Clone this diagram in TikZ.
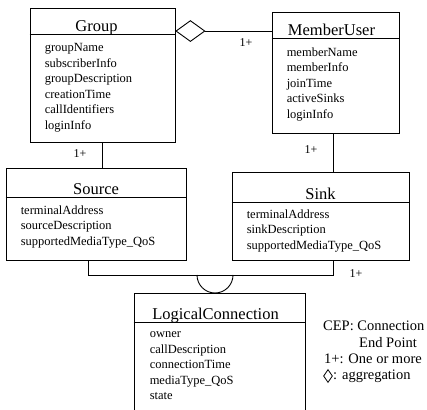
\documentclass[tikz,border=0pt]{standalone}
\usepackage{fontspec}
\setmainfont{Liberation Serif}
\usepackage{tikz}
\usetikzlibrary{calc,shapes.geometric}

\tikzset{
  classbox/.style={draw, line width=0.9pt, inner sep=0pt},
  classname/.style={font=\fontsize{16.5}{18}\selectfont, inner sep=0pt, anchor=base},
  attrs/.style={font=\fontsize{12.5}{15.5}\selectfont, align=left, inner sep=0pt,
    anchor=north west},
  mult/.style={font=\fontsize{12}{14}\selectfont, inner sep=0pt},
  keytext/.style={font=\fontsize{14.5}{16.5}\selectfont, inner sep=0pt, anchor=base west},
  link/.style={line width=0.9pt},
  aggr/.style={draw, diamond, line width=0.9pt, inner sep=0pt},
}

\begin{document}
\begin{tikzpicture}[x=1pt,y=1pt]
		\useasboundingbox (0,0) rectangle (427,409);
		\clip (0,0) rectangle (427,409);
		%%%%% START %%%%%
		% Group
		\node[classbox, minimum width=145pt, minimum height=134pt] (group) at (102.5,334) {};
		\draw[link] ([yshift=-27pt]group.north west) -- ([yshift=-27pt]group.north east);
		\node[classname] (group-name) at ([xshift=-6pt,yshift=-23.5pt]group.north) {Group};
		\node[attrs] (group-attrs) at ([xshift=15pt,yshift=-36pt]group.north west)
			{groupName\\subscriberInfo\\groupDescription\\creationTime\\callIdentifiers\\loginInfo};
		
		% MemberUser
		\node[classbox, minimum width=127pt, minimum height=121pt] (member) at (335.5,336.5) {};
		\draw[link] ([yshift=-27pt]member.north west) -- ([yshift=-27pt]member.north east);
		\node[classname] (member-name) at ([xshift=-4pt,yshift=-23.5pt]member.north) {MemberUser};
		\node[attrs] (member-attrs) at ([xshift=15pt,yshift=-36pt]member.north west)
			{memberName\\memberInfo\\joinTime\\activeSinks\\loginInfo};
		
		% Source
		\node[classbox, minimum width=180pt, minimum height=92pt] (source) at (96,195) {};
		\draw[link] ([yshift=-30pt]source.north west) -- ([yshift=-30pt]source.north east);
		\node[classname] (source-name) at ([yshift=-26.5pt]source.north) {Source};
		\node[attrs] (source-attrs) at ([xshift=15pt,yshift=-38pt]source.north west)
			{terminalAddress\\sourceDescription\\supportedMediaType\_QoS};
		
		% Sink
		\node[classbox, minimum width=177pt, minimum height=88pt] (sink) at (320.5,193) {};
		\draw[link] ([yshift=-31pt]sink.north west) -- ([yshift=-31pt]sink.north east);
		\node[classname] (sink-name) at ([yshift=-27.5pt]sink.north) {Sink};
		\node[attrs] (sink-attrs) at ([xshift=15pt,yshift=-38pt]sink.north west)
			{terminalAddress\\sinkDescription\\supportedMediaType\_QoS};
		
		% LogicalConnection (runs off the bottom)
		\node[classbox, minimum width=171pt, minimum height=140pt] (logical) at (219.5,46) {};
		\draw[link] ([yshift=-30pt]logical.north west) -- ([yshift=-30pt]logical.north east);
		\node[classname] (logical-name) at ([xshift=-4pt,yshift=-26.5pt]logical.north) {LogicalConnection};
		\node[attrs] (logical-attrs) at ([xshift=16pt,yshift=-39pt]logical.north west)
			{owner\\callDescription\\connectionTime\\mediaType\_QoS\\state};
		
		% aggregation Group <> MemberUser
		\node[aggr, minimum width=29pt, minimum height=21pt, anchor=west] (agg) at ([yshift=-23.5pt]group.north east) {};
		\draw[link] (agg.east) -- (agg.east -| member.west);
		\node[mult] (agg-mult) at (246,366) {1+};
		
		% Group -- Source, MemberUser -- Sink
		\draw[link] (group.south) -- (group.south |- source.north);
		\node[mult] (group-mult) at (80,255) {1+};
		\draw[link] ([xshift=-2.5pt]member.south) -- ([xshift=-2.5pt]member.south |- sink.north);
		\node[mult] (member-mult) at (311,259) {1+};
		
		% Source and Sink joined at the connection end point
		\coordinate (cep) at (215,134);
		\draw[link] ([xshift=-8pt]source.south) |- ([xshift=12.5pt]sink.south |- cep)
			-- ([xshift=12.5pt]sink.south);
		\draw[link] ([xshift=-18pt]cep) arc (180:360:18);
		\node[mult] (cep-mult) at (356,135) {1+};
		
		% key
		\node[keytext] (key-cep) at (323,79) {CEP: Connection};
		\node[keytext, anchor=base] (key-end) at (388,62) {End Point};
		\node[keytext] (key-mult) at (324,46) {1+: One or more};
		\node[aggr, minimum width=9pt, minimum height=13pt, line width=0.8pt] (key-diamond) at (328,33) {};
		\node[keytext] (key-aggr) at (333,30) {: aggregation};
		%%%%% END %%%%%
\end{tikzpicture}
\end{document}
